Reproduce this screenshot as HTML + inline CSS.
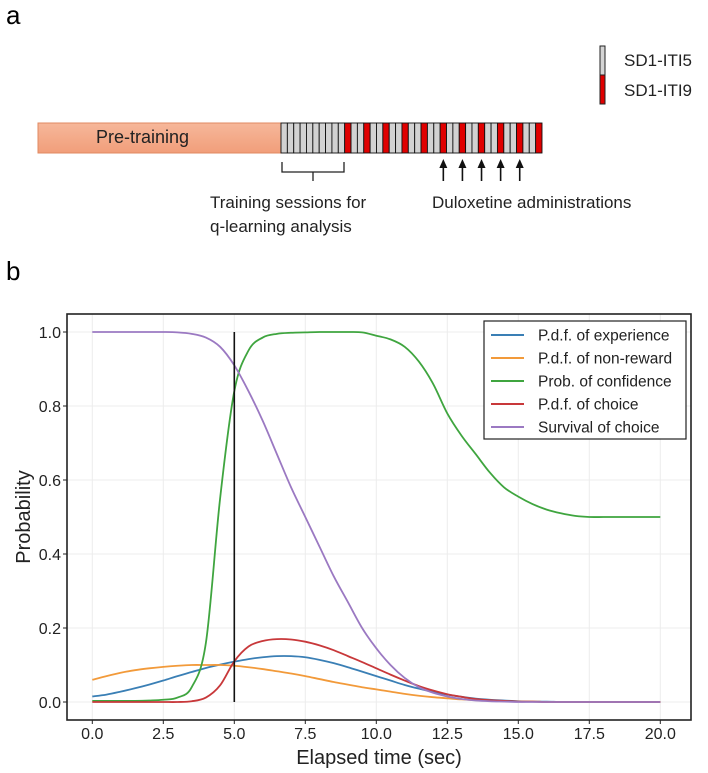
<!DOCTYPE html>
<html><head><meta charset="utf-8"><style>
html,body{margin:0;padding:0;background:#fff;}
svg{display:block;font-family:"Liberation Sans",Arial,sans-serif;}
</style></head><body>
<svg id="fig" width="708" height="773" viewBox="0 0 708 773" xmlns="http://www.w3.org/2000/svg">
  <defs>
    <linearGradient id="pg" x1="0" y1="0" x2="0" y2="1">
      <stop offset="0" stop-color="#f6b79a"/><stop offset="1" stop-color="#f19e7a"/>
    </linearGradient>
  </defs>
  <text x="6" y="24" font-size="26">a</text>
  <text x="6" y="280" font-size="26">b</text>

  <g>
    <rect x="600" y="46" width="5" height="29" fill="#d4d4d4" stroke="#222" stroke-width="1"/>
    <rect x="600" y="75" width="5" height="29" fill="#e00000" stroke="#222" stroke-width="1"/>
    <text x="624" y="66" font-size="17" fill="#222">SD1-ITI5</text>
    <text x="624" y="96" font-size="17" fill="#222">SD1-ITI9</text>
  </g>

  <rect x="38" y="123" width="243" height="30" fill="url(#pg)" stroke="#e08a62" stroke-width="1"/>
  <text x="96" y="143" font-size="18" fill="#222">Pre-training</text>
  <g id="cells"></g>
  <path d="M282 162 V172 H344 V162 M313 172 V181" fill="none" stroke="#222" stroke-width="1.3"/>
  <g id="arrows"></g>
  <text x="210" y="208" font-size="17" fill="#222">Training sessions for</text>
  <text x="210" y="232" font-size="17" fill="#222">q-learning analysis</text>
  <text x="432" y="208" font-size="17" fill="#222">Duloxetine administrations</text>

  <g id="chart"></g>
</svg>
<script>
const NS="http://www.w3.org/2000/svg";
function mk(tag,attrs,parent){const e=document.createElementNS(NS,tag);for(const k in attrs)e.setAttribute(k,attrs[k]);parent.appendChild(e);return e;}

// session timeline
const cellCount=41;
const redCells=[10,13,16,19,22,25,28,31,34,37,40];
const arrowCells=[25,28,31,34,37];
const cellsG=document.getElementById('cells');
const cx0=281,cw=(542-281)/cellCount;
for(let i=0;i<cellCount;i++){
  const r=mk('rect',{x:cx0+i*cw,y:123,width:cw,height:30,fill:redCells.includes(i)?'#e00000':'#d2d2d2',stroke:'#111','stroke-width':0.9},cellsG);
  
  
}
const arrowsG=document.getElementById('arrows');
arrowCells.forEach(i=>{
  const x=cx0+(i+0.5)*cw;
  const g=mk('g',{},arrowsG);
  
  
  mk('line',{x1:x,y1:166,x2:x,y2:181,stroke:'#111','stroke-width':1.6},g);
  mk('path',{d:`M${x-4} ${168} L${x} ${159} L${x+4} ${168} Z`,fill:'#111'},g);
});

// chart data
const times=[0,0.5,1,1.5,2,2.5,3,3.5,4,4.5,5,5.5,6,6.5,7,7.5,8,8.5,9,9.5,10,10.5,11,11.5,12,12.5,13,13.5,14,14.5,15,15.5,16,16.5,17,17.5,18,18.5,19,19.5,20];
const experience=[0.015,0.02,0.028,0.037,0.047,0.058,0.07,0.081,0.092,0.101,0.109,0.116,0.121,0.124,0.124,0.121,0.114,0.105,0.094,0.082,0.07,0.058,0.046,0.036,0.027,0.02,0.014,0.009,0.006,0.004,0.002,0.001,0.001,0,0,0,0,0,0,0,0];
const nonReward=[0.06,0.07,0.079,0.086,0.091,0.095,0.098,0.1,0.1,0.1,0.098,0.094,0.089,0.083,0.077,0.07,0.062,0.054,0.047,0.04,0.034,0.028,0.022,0.017,0.013,0.01,0.007,0.005,0.003,0.002,0.001,0.001,0,0,0,0,0,0,0,0,0];
const confidence=[0.003,0.003,0.003,0.003,0.004,0.006,0.012,0.04,0.16,0.55,0.84,0.95,0.985,0.995,0.998,0.999,1,1,1,0.999,0.99,0.98,0.96,0.92,0.86,0.78,0.72,0.67,0.62,0.58,0.555,0.535,0.52,0.51,0.503,0.5,0.5,0.5,0.5,0.5,0.5];
const choice=[0,0,0,0,0,0,0,0.002,0.012,0.045,0.11,0.15,0.165,0.17,0.169,0.163,0.153,0.14,0.124,0.108,0.091,0.074,0.058,0.043,0.031,0.021,0.014,0.008,0.005,0.003,0.001,0.001,0,0,0,0,0,0,0,0,0];
const survival=[1,1,1,1,1,1,0.999,0.995,0.985,0.96,0.91,0.84,0.76,0.67,0.58,0.5,0.42,0.34,0.27,0.2,0.145,0.1,0.065,0.04,0.025,0.015,0.008,0.004,0.002,0.001,0,0,0,0,0,0,0,0,0,0,0];
const seriesNames=["P.d.f. of experience","P.d.f. of non-reward","Prob. of confidence","P.d.f. of choice","Survival of choice"];
const seriesKeys=["experience","non-reward","confidence","choice","survival"];
const seriesColors=["#3a7fb5","#f29a3a","#3fa53f","#c8383a","#9b79c2"];
const xTicks=[0,2.5,5,7.5,10,12.5,15,17.5,20];
const xTickLabels=["0.0","2.5","5.0","7.5","10.0","12.5","15.0","17.5","20.0"];
const yTicks=[0,0.2,0.4,0.6,0.8,1.0];
const yTickLabels=["0.0","0.2","0.4","0.6","0.8","1.0"];
const markerTime=5;

const X=t=>92.3+t*28.4;
const Y=v=>702-v*370;
const chart=document.getElementById('chart');

// grid
xTicks.forEach(t=>{const l=mk('line',{x1:X(t),y1:314,x2:X(t),y2:720,stroke:'#ececec','stroke-width':1},chart);});
yTicks.forEach(v=>{const l=mk('line',{x1:67,y1:Y(v),x2:691,y2:Y(v),stroke:'#ececec','stroke-width':1},chart);});

// series
const allSeries=[experience,nonReward,confidence,choice,survival];
function smoothPath(xs,ys){
  const p=xs.map((t,i)=>[X(t),Y(ys[i])]);
  let d=`M${p[0][0]} ${p[0][1]}`;
  for(let i=0;i<p.length-1;i++){
    const p0=p[i-1]||p[i],p1=p[i],p2=p[i+1],p3=p[i+2]||p2;
    const c1=[p1[0]+(p2[0]-p0[0])/6,p1[1]+(p2[1]-p0[1])/6];
    const c2=[p2[0]-(p3[0]-p1[0])/6,p2[1]-(p3[1]-p1[1])/6];
    d+=` C${c1[0]} ${c1[1]} ${c2[0]} ${c2[1]} ${p2[0]} ${p2[1]}`;
  }
  return d;
}
allSeries.forEach((s,i)=>{
  const p=mk('path',{d:smoothPath(times,s),fill:'none',stroke:seriesColors[i],'stroke-width':1.8},chart);
  
  
});

// marker line
const ml=mk('line',{x1:X(markerTime),y1:Y(1),x2:X(markerTime),y2:Y(0),stroke:'#111','stroke-width':1.6},chart);



// frame
const fr=mk('rect',{x:67,y:314,width:624,height:406,fill:'none',stroke:'#222','stroke-width':1.6},chart);



// ticks
xTicks.forEach((t,i)=>{
  mk('line',{x1:X(t),y1:720,x2:X(t),y2:724,stroke:'#222','stroke-width':1},chart);
  const tx=mk('text',{x:X(t),y:739,'text-anchor':'middle','font-size':16,fill:'#222'},chart);
  tx.textContent=xTickLabels[i];
  
  
});
yTicks.forEach((v,i)=>{
  mk('line',{x1:63,y1:Y(v),x2:67,y2:Y(v),stroke:'#222','stroke-width':1},chart);
  const tx=mk('text',{x:61,y:Y(v)+6,'text-anchor':'end','font-size':16,fill:'#222'},chart);
  tx.textContent=yTickLabels[i];
  
  
});
const xt=mk('text',{x:379,y:764,'text-anchor':'middle','font-size':20,fill:'#222'},chart);
xt.textContent='Elapsed time (sec)';


const yt=mk('text',{x:0,y:0,'text-anchor':'middle','font-size':20,fill:'#222',transform:'translate(30,517) rotate(-90)'},chart);
yt.textContent='Probability';



// legend
const lg=mk('g',{},chart);


mk('rect',{x:484,y:321,width:202,height:118,fill:'#fff',stroke:'#222','stroke-width':1.2},lg);
seriesNames.forEach((n,i)=>{
  const y=335+i*23;
  const e=mk('g',{},lg);
  
  
  mk('line',{x1:491,y1:y,x2:524,y2:y,stroke:seriesColors[i],'stroke-width':2},e);
  const t=mk('text',{x:538,y:y+5.5,'font-size':15.5,fill:'#222'},e);
  t.textContent=n;
});
</script>
</body></html>
